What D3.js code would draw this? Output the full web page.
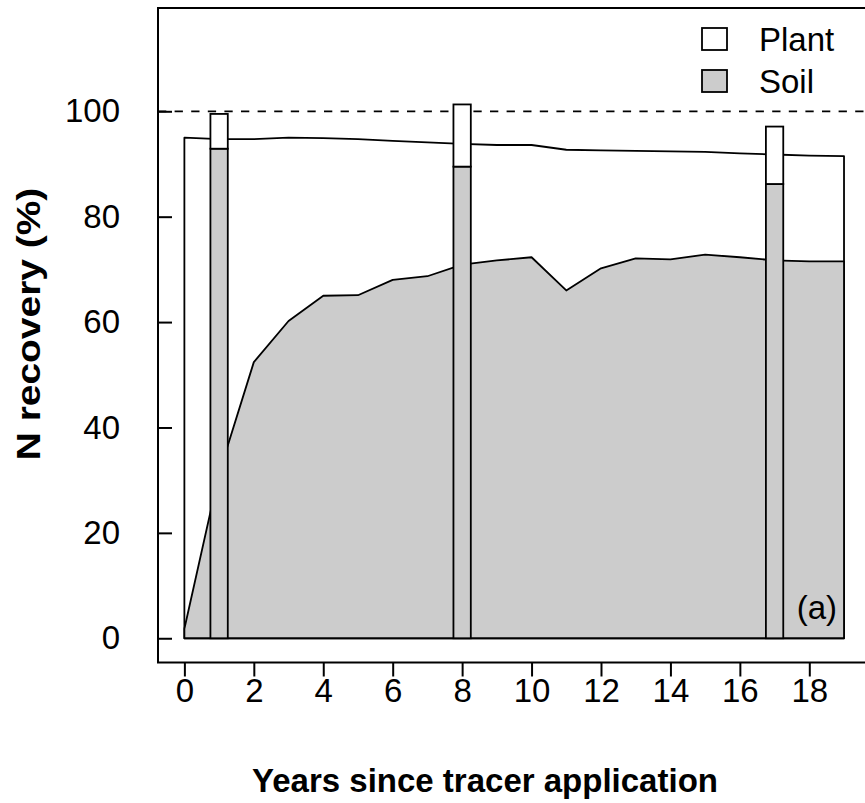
<!DOCTYPE html>
<html>
<head>
<meta charset="utf-8">
<script src="https://cdn.jsdelivr.net/npm/d3@7"></script>
<style>
  body { margin: 0; background: #fff; }
  text { font-family: "Liberation Sans", Arial, sans-serif; fill: #000; }
</style>
</head>
<body>
<svg id="chart"></svg>
<script>
// Data
const years = [0, 1, 2, 3, 4, 5, 6, 7, 8, 9, 10, 11, 12, 13, 14, 15, 16, 17, 18, 19];
const totalRecovery = [95.0, 94.7, 94.7, 95.0, 94.9, 94.7, 94.4, 94.1, 93.8, 93.6, 93.6, 92.7, 92.6, 92.5, 92.4, 92.3, 92.0, 91.8, 91.6, 91.5];
const soilRecovery = [1.8, 31.3, 52.4, 60.2, 65.0, 65.1, 68.0, 68.7, 70.9, 71.7, 72.3, 66.0, 70.2, 72.1, 71.9, 72.8, 72.3, 71.7, 71.5, 71.5];

// measured samples (bars)
const sampleYears = [1, 8, 17];
const sampleSoil = [92.9, 89.5, 86.2];
const sampleTotal = [99.5, 101.3, 97.1];

const xTicks = [0, 2, 4, 6, 8, 10, 12, 14, 16, 18];
const yTicks = [0, 20, 40, 60, 80, 100];
const legendLabels = ["Plant", "Soil"];

const W = 865, H = 803;
const soilFill = "#cccccc";
const fs = "33px";

const svg = d3.select("#chart")
    .attr("width", W)
    .attr("height", H);

svg.append("rect").attr("width", W).attr("height", H).attr("fill", "#fff");

// scales (R style 4% padding around xlim 0-19, ylim 0-115)
const x = d3.scaleLinear()
    .domain([-0.76, 19.76])
    .range([158, 870.4]);

const y = d3.scaleLinear()
    .domain([-4.6, 119.6])
    .range([662.5, 8]);

// total (plant + soil) polygon and soil polygon
const totalPts = [[years[0], 0]].concat(years.map((yr, i) => [yr, totalRecovery[i]]), [[years[years.length - 1], 0]]);
const soilPts = [[years[0], 0]].concat(years.map((yr, i) => [yr, soilRecovery[i]]), [[years[years.length - 1], 0]]);

const line = d3.line()
    .x(d => x(d[0]))
    .y(d => y(d[1]));

svg.append("path")
    .attr("d", line(totalPts) + "Z")
    .attr("fill", "#fff")
    .attr("stroke", "#000")
    .attr("stroke-width", 1.8)
    .attr("stroke-linejoin", "round");

svg.append("path")
    .attr("d", line(soilPts) + "Z")
    .attr("fill", soilFill)
    .attr("stroke", "#000")
    .attr("stroke-width", 1.8)
    .attr("stroke-linejoin", "round");

// 100% reference line
svg.append("line")
    .attr("x1", 158)
    .attr("x2", W)
    .attr("y1", y(100))
    .attr("y2", y(100))
    .attr("stroke", "#000")
    .attr("stroke-width", 1.8)
    .attr("stroke-dasharray", "8.3,8.3");

// sample bars: soil part then plant part
const barW = 0.5;
sampleYears.forEach((yr, i) => {
    svg.append("rect")
        .attr("x", x(yr - barW / 2))
        .attr("width", x(yr + barW / 2) - x(yr - barW / 2))
        .attr("y", y(sampleSoil[i]))
        .attr("height", y(0) - y(sampleSoil[i]))
        .attr("fill", soilFill)
        .attr("stroke", "#000")
        .attr("stroke-width", 1.8);
    svg.append("rect")
        .attr("x", x(yr - barW / 2))
        .attr("width", x(yr + barW / 2) - x(yr - barW / 2))
        .attr("y", y(sampleTotal[i]))
        .attr("height", y(sampleSoil[i]) - y(sampleTotal[i]))
        .attr("fill", "#fff")
        .attr("stroke", "#000")
        .attr("stroke-width", 1.8);
});

// plot box
svg.append("rect")
    .attr("x", 158)
    .attr("y", 8)
    .attr("width", 870.4 - 158)
    .attr("height", 662.5 - 8)
    .attr("fill", "none")
    .attr("stroke", "#000")
    .attr("stroke-width", 2);

// x axis (ticks outward)
const xAxis = svg.append("g")
    .attr("transform", `translate(0,662.5)`)
    .call(d3.axisBottom(x).tickValues(xTicks).tickSize(14).tickSizeOuter(0));
xAxis.select(".domain").remove();
xAxis.selectAll("line").attr("stroke-width", 2);
xAxis.selectAll("text")
    .attr("y", 27.5)
    .attr("dy", "0.35em")
    .style("font-family", "Liberation Sans, Arial, sans-serif")
    .style("font-size", fs);

// y axis (ticks inward)
const yAxis = svg.append("g")
    .attr("transform", `translate(158,0)`)
    .call(d3.axisRight(y).tickValues(yTicks).tickSize(14).tickSizeOuter(0));
yAxis.select(".domain").remove();
yAxis.selectAll("line").attr("stroke-width", 2);
yAxis.selectAll("text")
    .attr("x", -38)
    .attr("text-anchor", "end")
    .style("font-family", "Liberation Sans, Arial, sans-serif")
    .style("font-size", fs);

// axis titles
svg.append("text")
    .attr("x", 485)
    .attr("y", 792)
    .attr("text-anchor", "middle")
    .style("font-size", "33px")
    .style("font-weight", "bold")
    .text("Years since tracer application");

svg.append("text")
    .attr("transform", "translate(40,324) rotate(-90) scale(1.18,1)")
    .attr("text-anchor", "middle")
    .style("font-size", "33px")
    .style("font-weight", "bold")
    .text("N recovery (%)");

// legend
const legendFills = ["#fff", soilFill];
legendLabels.forEach((lab, i) => {
    const cy = 39 + i * 42;
    svg.append("rect")
        .attr("x", 702)
        .attr("y", cy - 11)
        .attr("width", 25)
        .attr("height", 22)
        .attr("fill", legendFills[i])
        .attr("stroke", "#000")
        .attr("stroke-width", 1.8);
    svg.append("text")
        .attr("x", 759)
        .attr("y", cy)
        .attr("dy", "0.35em")
        .style("font-size", fs)
        .text(lab);
});

// panel label
svg.append("text")
    .attr("x", 837)
    .attr("y", 607)
    .attr("dy", "0.35em")
    .attr("text-anchor", "end")
    .style("font-size", fs)
    .text("(a)");
</script>
</body>
</html>
